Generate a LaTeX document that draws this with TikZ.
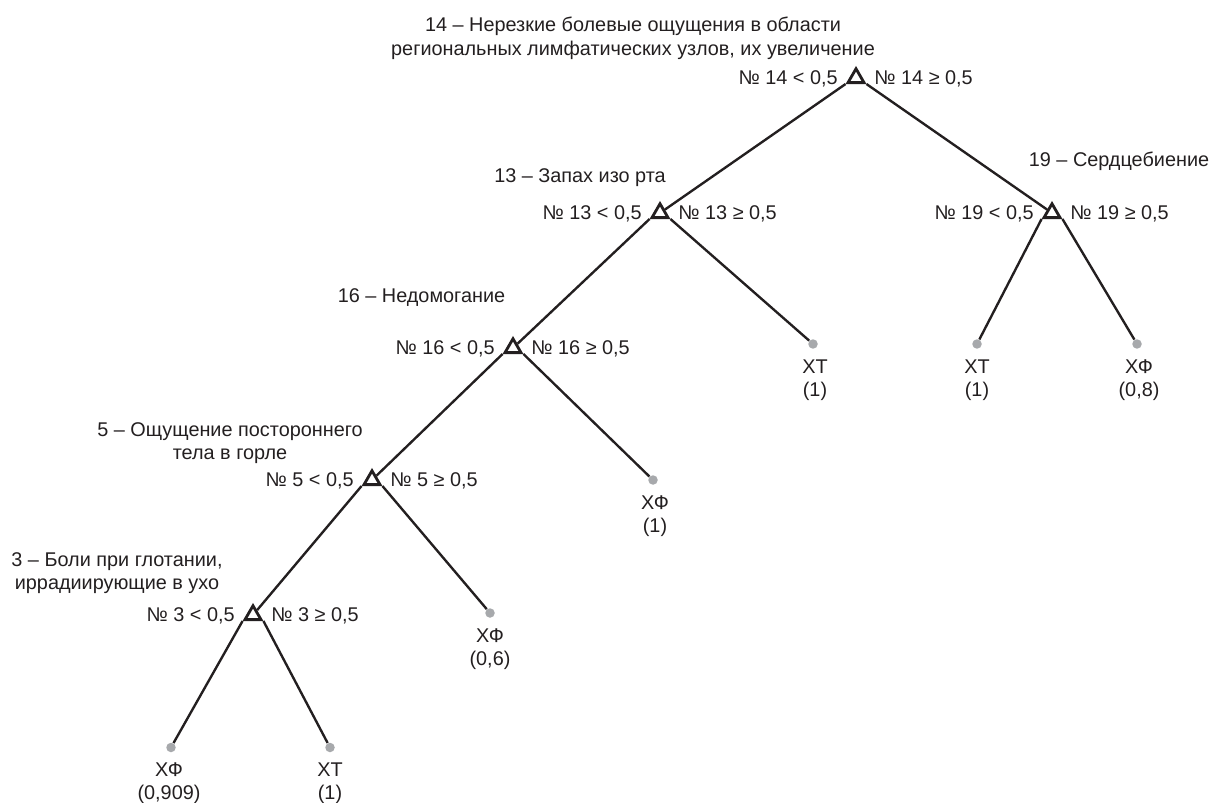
\documentclass[tikz,border=0pt]{standalone}
\usepackage{fontspec}
\setmainfont{Liberation Sans}
\usepackage{tikz}
\usetikzlibrary{shapes.geometric}

\definecolor{chernyj}{RGB}{35,31,32}
\definecolor{tochka}{RGB}{167,169,172}

\tikzset{
  uzel/.style={regular polygon, regular polygon sides=3, draw=chernyj,
    line width=1.6pt, minimum size=0.37cm, inner sep=0pt},
  list/.style={circle, fill=tochka, minimum size=0.19cm, inner sep=0pt},
  vetv/.style={draw=chernyj, line width=1.35pt},
  usl/.style={inner sep=0pt},
  priznak/.style={inner sep=0pt, align=center},
  klass/.style={inner sep=0pt, align=center, anchor=north}
}

\begin{document}
\begin{tikzpicture}[x=0.02cm, y=-0.02cm, color=chernyj,
  font=\fontsize{11.3}{13.4}\selectfont]
\useasboundingbox (0,0) rectangle (1212,803);

% Узлы
\node[uzel] (t14) at (856,78) {};
\node[uzel] (t13) at (660,213) {};
\node[uzel] (t19) at (1052,213) {};
\node[uzel] (t16) at (513,348) {};
\node[uzel] (t5) at (372,480) {};
\node[uzel] (t3) at (253,615) {};

% Признаки
\node[priznak, anchor=north] (p14) at (633,17)
{14 – Нерезкие болевые ощущения в области\\региональных лимфатических узлов, их увеличение};
\node[priznak, anchor=base] (p13) at (580,183) {13 – Запах изо рта};
\node[priznak, anchor=base] (p19) at (1119,167) {19 – Сердцебиение};
\node[priznak, anchor=base] (p16) at (421.5,303) {16 – Недомогание};
\node[priznak, anchor=north] (p5) at (230,422)
{5 – Ощущение постороннего\\тела в горле};
\node[priznak, anchor=north] (p3) at (117,552)
{3 – Боли при глотании,\\иррадиирующие в ухо};

% Условия
\node[usl, anchor=base east] (u14a) at (838,84.5) {№ 14 < 0,5};
\node[usl, anchor=base west] (u14b) at (874,84.5) {№ 14 ≥ 0,5};
\node[usl, anchor=base east] (u13a) at (642,219.5) {№ 13 < 0,5};
\node[usl, anchor=base west] (u13b) at (678,219.5) {№ 13 ≥ 0,5};
\node[usl, anchor=base east] (u19a) at (1034,219.5) {№ 19 < 0,5};
\node[usl, anchor=base west] (u19b) at (1070,219.5) {№ 19 ≥ 0,5};
\node[usl, anchor=base east] (u16a) at (495,354.5) {№ 16 < 0,5};
\node[usl, anchor=base west] (u16b) at (531,354.5) {№ 16 ≥ 0,5};
\node[usl, anchor=base east] (u5a) at (354,486.5) {№ 5 < 0,5};
\node[usl, anchor=base west] (u5b) at (390,486.5) {№ 5 ≥ 0,5};
\node[usl, anchor=base east] (u3a) at (235,621.5) {№ 3 < 0,5};
\node[usl, anchor=base west] (u3b) at (271,621.5) {№ 3 ≥ 0,5};

% Листья
\node[list] (d13) at (813,344) {};
\node[list] (d19a) at (977,344) {};
\node[list] (d19b) at (1137,344) {};
\node[list] (d16) at (653,480) {};
\node[list] (d5) at (490,613) {};
\node[list] (d3a) at (171,747.5) {};
\node[list] (d3b) at (330,747.5) {};

\node[klass] (k13) at (815,359) {ХТ\\(1)};
\node[klass] (k19a) at (977,359) {ХТ\\(1)};
\node[klass] (k19b) at (1139,359) {ХФ\\(0,8)};
\node[klass] (k16) at (655,495) {ХФ\\(1)};
\node[klass] (k5) at (490,628) {ХФ\\(0,6)};
\node[klass] (k3a) at (169,762) {ХФ\\(0,909)};
\node[klass] (k3b) at (330,762) {ХТ\\(1)};

% Ветви
\draw[vetv] (t14.corner 2) -- (t13);
\draw[vetv] (t14.corner 3) -- (t19);
\draw[vetv] (t13.corner 2) -- (t16);
\draw[vetv] (t13.corner 3) -- (d13);
\draw[vetv] (t19.corner 2) -- (d19a);
\draw[vetv] (t19.corner 3) -- (d19b);
\draw[vetv] (t16.corner 2) -- (t5);
\draw[vetv] (t16.corner 3) -- (d16);
\draw[vetv] (t5.corner 2) -- (t3);
\draw[vetv] (t5.corner 3) -- (d5);
\draw[vetv] (t3.corner 2) -- (d3a);
\draw[vetv] (t3.corner 3) -- (d3b);

\end{tikzpicture}
\end{document}
